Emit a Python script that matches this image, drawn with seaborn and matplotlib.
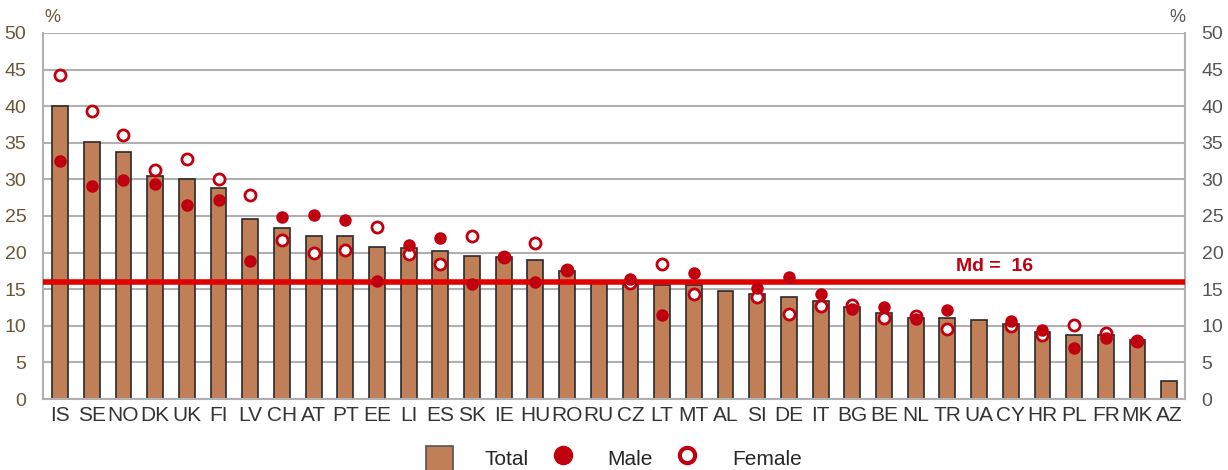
import numpy as np
import pandas as pd
import seaborn as sns
from matplotlib import pyplot as plt
from matplotlib.lines import Line2D
from matplotlib.patches import Patch

countries = ['IS', 'SE', 'NO', 'DK', 'UK', 'FI', 'LV', 'CH', 'AT', 'PT', 'EE', 'LI',
             'ES', 'SK', 'IE', 'HU', 'RO', 'RU', 'CZ', 'LT', 'MT', 'AL', 'SI', 'DE',
             'IT', 'BG', 'BE', 'NL', 'TR', 'UA', 'CY', 'HR', 'PL', 'FR', 'MK', 'AZ']
total = [40.0, 35.1, 33.7, 30.5, 30.1, 28.8, 24.6, 23.4, 22.3, 22.2, 20.7, 20.6,
         20.2, 19.6, 19.4, 19.0, 17.5, 16.1, 16.0, 15.6, 15.6, 14.7, 14.4, 14.0,
         13.4, 12.6, 11.7, 11.1, 11.0, 10.8, 10.3, 9.1, 8.7, 8.7, 8.0, 2.4]
male = [32.5, 29.1, 29.9, 29.4, 26.5, 27.2, 18.9, 24.9, 25.1, 24.5, 16.1, 21.0,
        22.0, 15.7, 19.4, 16.0, 17.6, np.nan, 16.4, 11.5, 17.2, np.nan, 15.1, 16.6,
        14.4, 12.3, 12.5, 10.9, 12.1, np.nan, 10.6, 9.4, 7.0, 8.4, 7.9, np.nan]
female = [44.3, 39.3, 36.1, 31.3, 32.8, 30.1, 27.8, 21.7, 19.9, 20.4, 23.5, 19.8,
          18.4, 22.3, 19.4, 21.3, 17.6, np.nan, 15.9, 18.4, 14.3, np.nan, 14.0, 11.6,
          12.7, 12.9, 11.1, 11.4, 9.6, np.nan, 10.0, 8.7, 10.1, 9.0, 7.9, np.nan]
median = 16

df = pd.DataFrame({'country': countries, 'total': total, 'male': male, 'female': female})

red = '#c0000f'
bar_col = '#c17f57'

sns.set_style('white')
plt.rcParams['font.family'] = ['Liberation Sans', 'DejaVu Sans']

fig = plt.figure(figsize=(12.28, 4.70), dpi=100)
ax = fig.add_axes([0.035, 0.151, 0.930, 0.779])

ax.yaxis.grid(True, color='#b0b0b0', linewidth=1.5, zorder=0)
ax.set_axisbelow(True)

sns.barplot(data=df, x='country', y='total', color=bar_col, width=0.5,
            edgecolor='#2a2a2a', linewidth=1.2, saturation=1, ax=ax, zorder=2)
ax.axhline(median, color='#e00000', linewidth=4, zorder=3)
sns.stripplot(data=df, x='country', y='female', jitter=False, color='white',
              edgecolor=red, linewidth=2, size=8, ax=ax, zorder=4)
sns.stripplot(data=df, x='country', y='male', jitter=False, color=red,
              size=9, linewidth=0, ax=ax, zorder=5)

ax.set_ylim(0, 50)
ax.set_xlim(-0.54, len(countries) - 0.5)
ax.set_yticks(range(0, 51, 5))
ax.set_xlabel('')
ax.set_ylabel('')
ax.tick_params(axis='x', length=0, labelsize=15, labelcolor='#333333', pad=5)
ax.tick_params(axis='y', length=0, labelsize=14, labelcolor='#6b5636', pad=12)
for s in ['left', 'bottom', 'right']:
    ax.spines[s].set_color('#b0b0b0')
    ax.spines[s].set_linewidth(1.5)
ax.spines['top'].set_visible(False)

ax2 = ax.twinx()
ax2.set_ylim(0, 50)
ax2.set_yticks(range(0, 51, 5))
ax2.tick_params(axis='y', length=0, labelsize=14, labelcolor='#555555', pad=12)
for s in ax2.spines.values():
    s.set_visible(False)

ax.text(29.5, 16.9, 'Md =  16', color=red, fontsize=14, fontweight='bold', ha='center', va='bottom')
fig.text(0.036, 0.962, '%', fontsize=13, color='#6b5636', va='center')
fig.text(0.952, 0.962, '%', fontsize=13, color='#555555', va='center')

handles = [Patch(facecolor=bar_col, edgecolor='#555555', linewidth=1.2),
           Line2D([], [], marker='o', linestyle='', color=red, markersize=13),
           Line2D([], [], marker='o', linestyle='', markerfacecolor='white',
                  markeredgecolor=red, markeredgewidth=3, markersize=11)]
leg = fig.legend(handles, ['Total', 'Male', 'Female'], loc='lower center', ncol=3,
                 bbox_to_anchor=(0.5, -0.042), frameon=False,
                 handlelength=1.3, handleheight=1.5, columnspacing=1.0, handletextpad=1.5,
                 prop={'family': ['Liberation Sans', 'DejaVu Sans'], 'size': 15})

fig.savefig('out.png', dpi=100)
